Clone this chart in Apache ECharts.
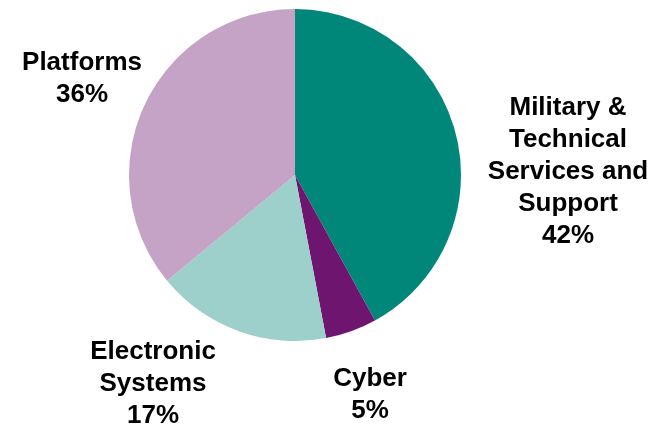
<!DOCTYPE html>
<html>
<head>
<meta charset="utf-8">
<script src="https://cdn.jsdelivr.net/npm/echarts@6/dist/echarts.min.js"></script>
<style>html,body{margin:0;padding:0;background:#fff}#c{width:661px;height:425px}</style>
</head>
<body>
<div id="c"></div>
<script>
const categories = ['Military &\nTechnical\nServices and\nSupport', 'Cyber', 'Electronic\nSystems', 'Platforms'];
const values = [42, 5, 17, 36];
const colors = ['#00877A', '#6E1570', '#9DCFCB', '#C4A3C6'];
const labelPos = [[568, 172], [370, 395], [153, 384], [82, 79]];

const chart = echarts.init(document.getElementById('c'), null, {renderer: 'canvas'});
chart.setOption({
  animation: false,
  series: [{
    type: 'pie',
    center: [295, 175],
    radius: 166,
    startAngle: 90,
    clockwise: true,
    avoidLabelOverlap: false,
    data: categories.map((n, i) => ({name: n, value: values[i], itemStyle: {color: colors[i]}})),
    itemStyle: {borderWidth: 0},
    label: {
      show: true,
      position: 'outside',
      overflow: 'none',
      width: 300,
      bleedMargin: 0,
      formatter: p => p.name + '\n' + p.value + '%',
      fontFamily: 'Liberation Sans, Arial, sans-serif',
      fontWeight: 'bold',
      fontSize: 26,
      lineHeight: 32,
      color: '#000',
      align: 'center'
    },
    labelLine: {show: false},
    labelLayout: function (params) {
      const p = labelPos[params.dataIndex];
      return {x: p[0], y: p[1], align: 'center', verticalAlign: 'middle'};
    }
  }]
});
</script>
</body>
</html>
